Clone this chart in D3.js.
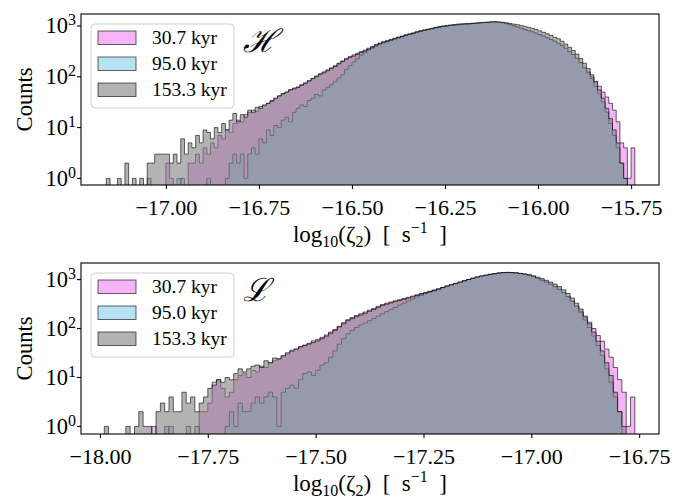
<!DOCTYPE html>
<html>
<head>
<meta charset="utf-8">
<script src="https://cdn.jsdelivr.net/npm/d3@7"></script>
<style>
  body { margin: 0; background: #fff; }
  text { font-family: "Liberation Serif", "Times New Roman", serif; fill: #000; white-space: pre; }
</style>
</head>
<body>
<div id="chart"></div>
<script>
// series labels / colours (matplotlib violet, skyblue, gray)
const labels = ['30.7 kyr', '95.0 kyr', '153.3 kyr'];
const colors = ['#ee82ee', '#87ceeb', '#808080'];
const binWidth = 0.01;

// --- panel H : counts per bin, first bin starts at hStart ---
const hStart = -17.16;
const hPink = [
  0,0,0,0,0,0,0,0,0,0,
  0,1,0,0,0,0,2,1,0,0,
  1,0,2,2,3,2,4,3,5,4,
  7,6,9,8,12,14,13,18,20,22,
  21,26,27,30,34,37,42,47,50,56,
  60,63,70,76,84,93,104,115,125,137,
  150,165,185,205,230,250,270,290,315,335,
  365,395,430,460,490,515,545,575,605,635,
  670,700,730,770,800,830,860,890,925,955,
  980,1000,1020,1040,1055,1070,1080,1090,1110,1120,
  1140,1160,1170,1190,1200,1180,1150,1105,1055,1005,
  955,905,855,810,765,720,675,630,585,540,
  500,455,410,360,312,272,228,190,150,125,
  100,80,65,50,40,30,22,13,5,4,
  1,4
];
const hBlue = [
  0,0,0,0,0,0,0,0,0,0,
  0,0,0,0,0,0,0,0,0,1,
  0,0,0,0,0,0,0,1,0,0,
  0,0,1,2,3,2,3,1,3,4,
  3,6,5,9,7,11,10,14,16,13,
  20,24,28,26,34,38,45,42,55,62,
  70,80,95,110,140,165,195,225,265,300,
  335,365,400,435,465,490,520,550,580,610,
  650,680,710,750,800,835,865,900,935,970,
  1000,1025,1050,1070,1090,1105,1115,1125,1140,1150,
  1160,1180,1190,1200,1200,1180,1150,1110,1060,1010,
  960,910,860,815,770,725,680,635,590,545,
  505,460,415,365,315,275,230,190,150,120,
  92,65,46,32,20,12,7,4,2,1,
  0,0
];
const hGray = [
  1,0,0,1,0,2,0,1,0,1,
  0,2,2,3,3,3,3,2,3,2,
  6,3,5,4,7,5,9,8,6,10,
  8,12,9,14,19,13,18,16,22,20,
  25,24,28,30,33,38,42,46,50,55,
  58,62,68,74,82,92,100,112,120,132,
  145,160,180,200,220,240,255,275,300,320,
  350,380,420,450,480,500,530,560,590,620,
  660,690,720,760,790,820,850,880,920,950,
  980,1000,1020,1040,1060,1080,1090,1100,1120,1130,
  1150,1170,1180,1200,1210,1200,1190,1160,1120,1090,
  1060,1020,980,940,900,850,800,750,700,650,
  600,560,500,440,380,330,280,230,185,145,
  110,80,55,38,24,15,9,5,2,1,
  0,0
];

// --- panel L ---
const lStart = -17.99;
const lPink = [
  0,0,0,0,0,0,0,0,0,0,
  0,1,0,0,1,0,0,0,0,1,
  0,0,2,2,3,8,9,6,4,5,
  9,11,12,10,14,13,17,16,20,22,
  24,27,30,34,38,43,46,50,56,60,
  66,74,85,96,112,132,152,168,185,200,
  218,238,258,284,310,330,350,370,390,410,
  435,460,490,520,550,580,615,650,695,740,
  785,835,885,945,1000,1060,1120,1170,1220,1270,
  1310,1350,1380,1390,1380,1360,1330,1290,1240,1150,
  1060,975,890,805,720,635,545,450,365,290,
  225,170,135,100,72,55,38,26,16,9,
  5,1,4
];
const lBlue = [
  0,0,0,0,0,0,0,0,0,0,
  0,0,0,0,0,1,0,0,0,0,
  0,1,0,0,0,0,0,0,1,2,
  1,3,2,2,3,4,3,4,5,4,
  1,5,6,7,6,9,12,13,11,14,
  18,20,26,35,48,62,78,92,105,118,
  130,145,160,178,200,222,245,270,300,330,
  365,400,440,480,520,555,590,630,680,730,
  780,830,885,945,1005,1070,1130,1185,1235,1290,
  1330,1370,1400,1410,1400,1375,1340,1295,1240,1150,
  1060,975,890,805,720,635,545,450,360,285,
  215,150,105,70,45,28,15,8,4,2,
  0,0,0
];
const lGray = [
  1,0,0,0,0,1,0,1,2,1,
  1,0,2,3,2,4,2,2,5,3,
  4,2,3,4,6,7,9,8,10,9,
  12,15,13,15,17,18,16,22,20,25,
  24,28,32,36,38,42,45,48,52,56,
  62,70,80,92,108,125,145,160,175,190,
  205,225,245,270,295,315,335,355,375,395,
  420,445,475,505,535,565,600,640,690,740,
  790,840,890,950,1010,1070,1130,1180,1230,1280,
  1320,1360,1390,1400,1390,1370,1340,1300,1260,1200,
  1120,1050,970,890,810,720,620,520,420,330,
  250,180,125,85,55,35,20,11,5,2,
  1,0,0
];

const hTicks = [-17, -16.75, -16.5, -16.25, -16, -15.75];
const lTicks = [-18, -17.75, -17.5, -17.25, -17, -16.75];
const yTicks = [1, 10, 100, 1000];

const W = 686, H = 499;
const svg = d3.select('#chart').append('svg')
  .attr('width', W)
  .attr('height', H);

function drawPanel(opt) {
  const left = 81, width = 578, height = 171;
  const top = opt.top;
  const x = d3.scaleLinear().domain(opt.xDomain).range([left, left + width]);
  const y = d3.scaleLog().domain(opt.yDomain).range([top + height, top]);
  const floor = top + height + 10;

  svg.append('clipPath').attr('id', 'clip-' + opt.id)
    .append('rect')
    .attr('x', left).attr('y', top)
    .attr('width', width).attr('height', height);

  const g = svg.append('g').attr('clip-path', `url(#clip-${opt.id})`);

  const area = d3.area()
    .curve(d3.curveStepAfter)
    .x(d => x(d.x0))
    .y0(floor)
    .y1(d => d.n > 0 ? y(d.n) : floor);

  opt.series.forEach((vals, i) => {
    const bins = vals.map((n, j) => ({ x0: opt.start + j * binWidth, n: n }));
    bins.push({ x0: opt.start + vals.length * binWidth, n: vals[vals.length - 1] });
    g.append('path')
      .datum(bins)
      .attr('d', area)
      .attr('fill', colors[i])
      .attr('fill-opacity', 0.6)
      .attr('stroke', '#000')
      .attr('stroke-opacity', 0.6)
      .attr('stroke-width', 1);
  });

  // x axis
  const xAxis = svg.append('g')
    .attr('transform', `translate(0,${top + height})`)
    .call(d3.axisBottom(x).tickValues(opt.ticks).tickFormat(d3.format('.2f')).tickSize(4).tickPadding(10));
  xAxis.attr('font-family', null).attr('font-size', null);
  xAxis.select('.domain').remove();
  xAxis.selectAll('line').attr('stroke', '#000').attr('stroke-width', 1.1);
  xAxis.selectAll('text')
    .attr('fill', '#000')
    .style('font-size', '22px')
    .style('font-family', '"Liberation Serif", serif');

  // y axis (log, decades)
  const yg = svg.append('g');
  yTicks.forEach(t => {
    const ty = y(t);
    yg.append('line')
      .attr('x1', left - 4).attr('x2', left)
      .attr('y1', ty).attr('y2', ty)
      .attr('stroke', '#000').attr('stroke-width', 1.1);
    const txt = yg.append('text')
      .attr('x', left - 5)
      .attr('y', ty + 7.5)
      .attr('text-anchor', 'end')
      .style('font-size', '22.5px');
    txt.append('tspan').text('10');
    txt.append('tspan').attr('dy', -8).style('font-size', '16px').text(Math.round(Math.log10(t)));
  });

  // frame
  svg.append('rect')
    .attr('x', left).attr('y', top)
    .attr('width', width).attr('height', height)
    .attr('fill', 'none')
    .attr('stroke', '#000')
    .attr('stroke-width', 1.1);

  // y label
  svg.append('text')
    .attr('transform', `translate(32,${top + height / 2}) rotate(-90)`)
    .attr('text-anchor', 'middle')
    .style('font-size', '22.5px')
    .text('Counts');

  // x label
  const xl = svg.append('text')
    .attr('x', left + width / 2)
    .attr('y', top + height + 57)
    .attr('text-anchor', 'middle')
    .style('font-size', '23px');
  xl.append('tspan').text('log');
  xl.append('tspan').attr('dy', 5).style('font-size', '16px').text('10');
  xl.append('tspan').attr('dy', -5).text('(ζ');
  xl.append('tspan').attr('dy', 5).style('font-size', '16px').text('2');
  xl.append('tspan').attr('dy', -5).text(')  [  s');
  xl.append('tspan').attr('dy', -9).style('font-size', '16px').text('−1');
  xl.append('tspan').attr('dy', 9).text('  ]');

  // script label
  svg.append('text')
    .attr('x', left + 162)
    .attr('y', top + 38)
    .style('font-family', '"DejaVu Serif", serif')
    .style('font-style', 'italic')
    .style('font-size', '32px')
    .text(opt.script);

  // legend
  const lg = svg.append('g').attr('transform', `translate(${left + 10},${top + 10})`);
  lg.append('rect')
    .attr('width', 143).attr('height', 84)
    .attr('rx', 4)
    .attr('fill', '#fff').attr('fill-opacity', 0.8)
    .attr('stroke', '#d0d0d0').attr('stroke-width', 1);
  labels.forEach((lab, i) => {
    lg.append('rect')
      .attr('x', 7).attr('y', 7 + i * 26)
      .attr('width', 38).attr('height', 13.5)
      .attr('fill', colors[i]).attr('fill-opacity', 0.6)
      .attr('stroke', '#000').attr('stroke-opacity', 0.6);
    lg.append('text')
      .attr('x', 61).attr('y', 20 + i * 26)
      .style('font-size', '19.5px')
      .text(lab);
  });
}

drawPanel({
  id: 'h', top: 14,
  xDomain: [-17.228, -15.675],
  yDomain: [Math.pow(10, -0.13), Math.pow(10, 3.236)],
  start: hStart,
  series: [hPink, hBlue, hGray],
  ticks: hTicks,
  script: 'ℋ'
});

drawPanel({
  id: 'l', top: 263,
  xDomain: [-18.044, -16.704],
  yDomain: [Math.pow(10, -0.155), Math.pow(10, 3.34)],
  start: lStart,
  series: [lPink, lBlue, lGray],
  ticks: lTicks,
  script: 'ℒ'
});
</script>
</body>
</html>
